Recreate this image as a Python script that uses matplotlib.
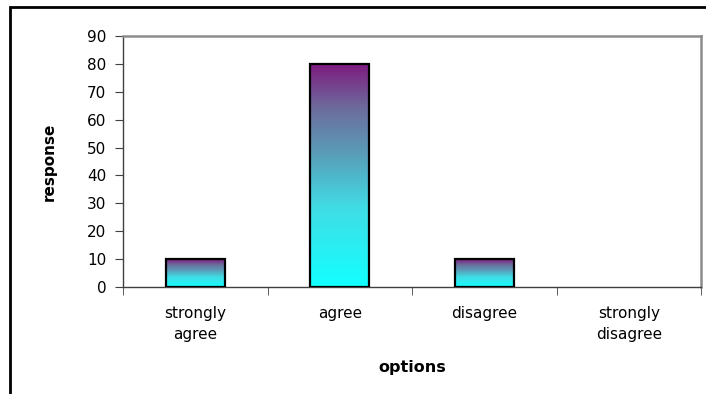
import numpy as np
import matplotlib
matplotlib.use('Agg')
import matplotlib.pyplot as plt
from matplotlib.colors import LinearSegmentedColormap
from matplotlib.patches import Rectangle

categories = ['strongly\nagree', 'agree', 'disagree', 'strongly\ndisagree']
responses = [10, 80, 10, 0]
y_ticks = [0, 10, 20, 30, 40, 50, 60, 70, 80, 90]

plt.rcParams['font.family'] = ['DejaVu Sans']

fig = plt.figure(figsize=(7.06, 3.94), dpi=100)
ax = fig.add_axes([123/706, 1 - 287/394, (701 - 123)/706, (287 - 36)/394])

# outer frame (only top/left visible in the reference)
fig.patches.append(Rectangle((10/706, -0.5), 2, 1 - 7/394 + 0.5, transform=fig.transFigure,
                             fill=False, edgecolor='black', linewidth=2))

# bottom cyan -> top purple
cmap = LinearSegmentedColormap.from_list(
    'grad', [(0.0, '#12ffff'), (0.35, '#40dde6'), (0.6, '#5a9cb8'), (0.8, '#6c6c9c'), (1.0, '#7f1a80')])
grad = np.linspace(0, 1, 256).reshape(-1, 1)

width = 0.41
for i, v in enumerate(responses):
    if v <= 0:
        continue
    x0 = i + 0.5 - width / 2
    ax.imshow(grad, extent=[x0, x0 + width, 0, v], origin='lower', aspect='auto',
              cmap=cmap, zorder=2)
    ax.add_patch(Rectangle((x0, 0), width, v, fill=False, edgecolor='black',
                           linewidth=1.6, zorder=3))

ax.set_xlim(0, 4)
ax.set_ylim(0, 90)
ax.set_yticks(y_ticks)
ax.set_xticks([0.5, 1.5, 2.5, 3.5])
ax.set_xticklabels(categories, fontsize=11, linespacing=1.45)
ax.set_xticks([0, 1, 2, 3, 4], minor=True)
ax.tick_params(axis='x', which='major', length=0, pad=14)
ax.tick_params(axis='x', which='minor', length=6, direction='out', color='#404040')
ax.tick_params(axis='y', length=6, direction='out', color='#404040', labelsize=11, pad=6)

for s in ['top', 'right']:
    ax.spines[s].set_color('#8c8c8c')
    ax.spines[s].set_linewidth(1.8)
for s in ['left', 'bottom']:
    ax.spines[s].set_color('#404040')
    ax.spines[s].set_linewidth(1.0)

ax.set_xlabel('options', fontsize=11.5, fontweight='bold', labelpad=13)
ax.set_ylabel('response', fontsize=11, fontweight='bold', labelpad=22)

fig.savefig('out.png', dpi=100)
